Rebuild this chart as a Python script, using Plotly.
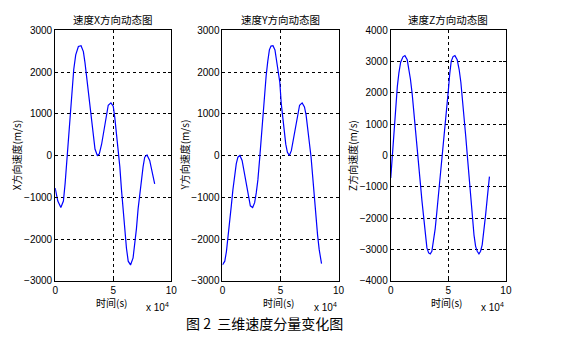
import plotly.graph_objects as go

# Time samples (in units of 1e4 s) and velocity components (m/s)
t_x = [0, 0.23, 0.49, 0.71, 0.86, 1.0, 1.14, 1.29, 1.43, 1.6, 1.77, 2.0, 2.23, 2.43, 2.57,
       2.71, 2.86, 3.0, 3.14, 3.29, 3.43, 3.63, 3.8, 4.0, 4.14, 4.29, 4.43, 4.57, 4.8, 5.0,
       5.14, 5.29, 5.43, 5.57, 5.71, 5.86, 6.0, 6.14, 6.29, 6.49, 6.71, 6.86, 7.0, 7.14, 7.29,
       7.43, 7.57, 7.71, 7.91, 8.14, 8.34, 8.57]
v_x = [-780, -1090, -1245, -1090, -660, -117, 506, 1050, 1595, 2060, 2410, 2610, 2630, 2490, 2220,
       1870, 1520, 1130, 740, 390, 155, 0, 40, 270, 505, 740, 1010, 1205, 1260, 1180,
       895, 505, 117, -272, -817, -1360, -1830, -2220, -2530, -2620, -2450, -2140, -1750, -1285, -895,
       -505, -272, -40, 15, -117, -350, -677]

t_y = [0, 0.2, 0.34, 0.48, 0.62, 0.76, 0.9, 1.05, 1.19, 1.33, 1.5, 1.69, 1.84, 1.98, 2.12,
       2.26, 2.4, 2.6, 2.77, 2.91, 3.05, 3.19, 3.33, 3.47, 3.62, 3.76, 3.9, 4.04, 4.18, 4.35,
       4.52, 4.66, 4.8, 4.94, 5.06, 5.18, 5.31, 5.45, 5.59, 5.76, 5.93, 6.07, 6.21, 6.36, 6.5,
       6.64, 6.86, 7.06, 7.2, 7.34, 7.49, 7.63, 7.77, 7.91, 8.05, 8.19, 8.33, 8.53]
v_y = [-2620, -2530, -2300, -1985, -1595, -1205, -817, -428, -195, -40, 0, -117, -350, -584, -817,
       -1050, -1205, -1245, -1130, -895, -584, -117, 428, 973, 1480, 1905, 2255, 2530, 2620, 2630,
       2530, 2295, 1985, 1750, 1250, 900, 560, 272, 78, 0, 117, 350, 584, 817, 1050,
       1205, 1260, 1165, 973, 660, 311, -40, -506, -1010, -1440, -1905, -2255, -2590]

t_z = [0, 0.11, 0.23, 0.34, 0.46, 0.57, 0.71, 0.86, 1.06, 1.23, 1.43, 1.57, 1.71, 1.86, 2.0,
       2.14, 2.29, 2.43, 2.57, 2.71, 2.86, 3.0, 3.14, 3.29, 3.43, 3.57, 3.71, 3.86, 4.0,
       4.14, 4.29, 4.43, 4.57, 4.71, 4.86, 5.0, 5.12, 5.25, 5.41, 5.57, 5.77, 5.94,
       6.09, 6.23, 6.37, 6.51, 6.66, 6.8, 6.94, 7.09, 7.23, 7.37, 7.51, 7.66, 7.8, 7.94,
       8.09, 8.23, 8.37, 8.57]
v_z = [-720, -150, 500, 1150, 1700, 2200, 2650, 2980, 3150, 3190, 3057, 2800, 2435, 1970, 1450,
       880, 311, -259, -880, -1450, -2020, -2540, -2950, -3110, -3140, -3057, -2746, -2332, -1813,
       -1295, -725, -155, 415, 985, 1554, 2073, 2600, 3005, 3160, 3190, 3057, 2746,
       2332, 1813, 1192, 622, -52, -674, -1347, -2020, -2540, -2900, -3057, -3140, -3057, -2850,
       -2435, -1917, -1400, -674]

titles = ["速度X方向动态图", "速度Y方向动态图", "速度Z方向动态图"]
ylabels = ["X方向速度(m/s)", "Y方向速度(m/s)", "Z方向速度(m/s)"]
xlabel = "时间(s)"
xtick_vals = [0, 5e4, 1e5]
xtick_text = ["0", "5", "10"]
y_ranges = [(-3000, 3000), (-3000, 3000), (-4000, 4000)]
caption = "图 2  三维速度分量变化图"

W, H = 568, 346
# plot boxes in pixels: (left, right), shared top/bottom
boxes = [(53, 171), (223, 341), (394, 511)]
top, bottom = 26, 284

CJK = "Noto Sans CJK SC"
NUM = "Liberation Sans, Arial"

fig = go.Figure()
series = [(t_x, v_x), (t_y, v_y), (t_z, v_z)]
for i, (tt, vv) in enumerate(series):
    n = "" if i == 0 else str(i + 1)
    fig.add_trace(go.Scatter(
        x=[t * 1e4 for t in tt], y=vv, mode="lines",
        line=dict(color="#0000FF", width=1.2),
        xaxis="x" + n, yaxis="y" + n, showlegend=False, hoverinfo="skip"))

    common = dict(showline=True, mirror="ticks", linecolor="black", linewidth=1,
                  ticks="inside", ticklen=3, tickcolor="black",
                  showgrid=True, gridcolor="black", griddash="3px,3px", gridwidth=1,
                  zeroline=False, tickfont=dict(family=NUM, size=10, color="black"))
    l, r = boxes[i]
    fig.layout["xaxis" + n] = dict(
        domain=[l / W, r / W], range=[0, 1e5], tickvals=xtick_vals, ticktext=xtick_text,
        anchor="y" + n, ticklabelstandoff=0, **common)
    fig.layout["yaxis" + n] = dict(
        domain=[1 - bottom / H, 1 - top / H], range=list(y_ranges[i]), dtick=1000,
        anchor="x" + n, **common)

    cx = (l + r) / 2
    # subplot title
    fig.add_annotation(x=cx / W, y=1 - 15 / H, xref="paper", yref="paper",
                       text=titles[i], showarrow=False, xanchor="center", yanchor="middle",
                       font=dict(family=CJK, size=10.5, color="black"))
    # y label
    fig.add_annotation(x=(l - 39) / W, y=1 - 155 / H, xref="paper", yref="paper",
                       text=ylabels[i], showarrow=False, textangle=-90,
                       xanchor="center", yanchor="middle",
                       font=dict(family=CJK, size=10, color="black"))
    # x label
    fig.add_annotation(x=(cx - 2) / W, y=1 - 306 / H, xref="paper", yref="paper",
                       text=xlabel, showarrow=False, xanchor="center", yanchor="middle",
                       font=dict(family=CJK, size=10, color="black"))
    # exponent label
    fig.add_annotation(x=r / W, y=1 - 311 / H, xref="paper", yref="paper",
                       text="x 10<sup>4</sup>", showarrow=False, xanchor="right", yanchor="middle",
                       font=dict(family=NUM, size=10, color="black"))

fig.add_annotation(x=266 / W, y=1 - 327 / H, xref="paper", yref="paper",
                   text=caption, showarrow=False, xanchor="center", yanchor="middle",
                   font=dict(family=CJK, size=14, color="black"))

fig.update_layout(width=W, height=H, margin=dict(l=0, r=0, t=0, b=0),
                  paper_bgcolor="white", plot_bgcolor="white", showlegend=False)

fig.write_html("out.html")
